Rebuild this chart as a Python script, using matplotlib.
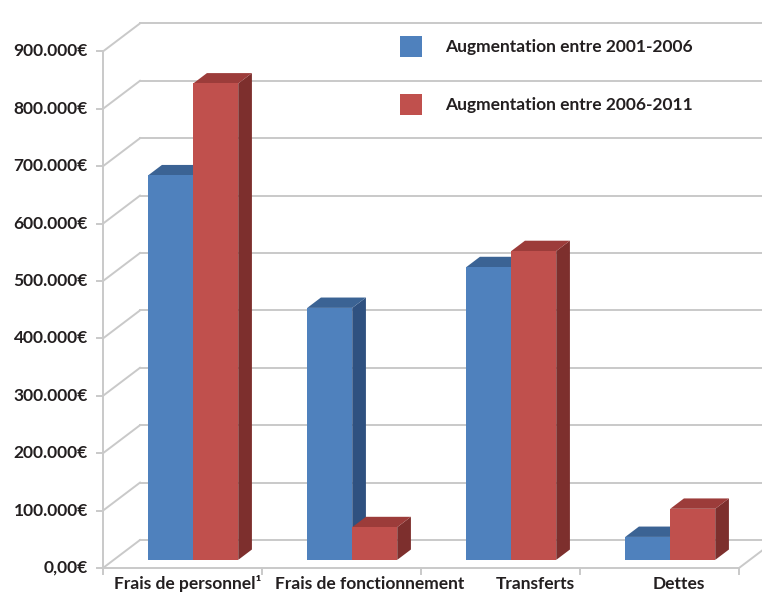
import matplotlib
matplotlib.use('Agg')
import matplotlib.pyplot as plt
from matplotlib.patches import Polygon

# data
categories = ['Frais de personnel\u00b9', 'Frais de fonctionnement', 'Transferts', 'Dettes']
aug_2001_2006 = [670000, 439000, 510000, 40000]
aug_2006_2011 = [830000, 57000, 538000, 89000]
series_names = ['Augmentation entre 2001-2006', 'Augmentation entre 2006-2011']
yticks = [0, 100000, 200000, 300000, 400000, 500000, 600000, 700000, 800000, 900000]
ytick_labels = ['0,00\u20ac', '100.000\u20ac', '200.000\u20ac', '300.000\u20ac', '400.000\u20ac',
                '500.000\u20ac', '600.000\u20ac', '700.000\u20ac', '800.000\u20ac', '900.000\u20ac']

# look
FONT = ['Lato', 'DejaVu Sans']
TXT = '#231f20'
GRID = '#c9c9c9'
blue = ('#4f81bd', '#3b6394', '#2f5180')   # front, top, side
red = ('#c0504d', '#9c3c3a', '#7d2f2d')

PX_X = 159.0            # pixels per category
PX_Y = 57.4 / 100000    # pixels per euro
DX = 37 / PX_X          # depth of the box, in category units
DY = 28 / PX_Y          # depth of the box, in euros
F0 = 0.29               # bar front depth fraction
FD = 0.37               # bar depth fraction
W = 45 / PX_X           # bar width

fig = plt.figure(figsize=(7.62, 5.93), dpi=100)
ax = fig.add_axes([0, 0, 1, 1])
ax.set_xlim(-103 / PX_X, (762 - 103) / PX_X)
ax.set_ylim(-25 / PX_Y, 568 / PX_Y)
ax.axis('off')

n = len(categories)
xr = n  # right end of floor

# walls and gridlines
for v in yticks:
    ax.plot([0, DX], [v, v + DY], color=GRID, lw=1.4, zorder=1)
    ax.plot([DX, xr + DX], [v + DY, v + DY], color=GRID, lw=1.4, zorder=1)
    ax.plot([-6 / PX_X, 0], [v, v], color=GRID, lw=1.4, zorder=1)
ax.plot([0, 0], [0, yticks[-1]], color=GRID, lw=1.4, zorder=1)
ax.plot([0, xr], [0, 0], color=GRID, lw=1.4, zorder=1)
ax.plot([xr, xr + DX], [0, DY], color=GRID, lw=1.4, zorder=1)
for i in range(n + 1):
    ax.plot([i, i], [0, -6 / PX_Y], color=GRID, lw=1.4, zorder=1)


def box(x0, h, cols):
    ox, oy = F0 * DX, F0 * DY
    dx, dy = FD * DX, FD * DY
    x0 = x0 + ox
    front = [(x0, oy), (x0 + W, oy), (x0 + W, oy + h), (x0, oy + h)]
    side = [(x0 + W, oy), (x0 + W + dx, oy + dy), (x0 + W + dx, oy + h + dy), (x0 + W, oy + h)]
    top = [(x0, oy + h), (x0 + W, oy + h), (x0 + W + dx, oy + h + dy), (x0 + dx, oy + h + dy)]
    ax.add_patch(Polygon(side, closed=True, fc=cols[2], ec='none', zorder=3))
    ax.add_patch(Polygon(top, closed=True, fc=cols[1], ec='none', zorder=3))
    ax.add_patch(Polygon(front, closed=True, fc=cols[0], ec='none', zorder=3))


for i in range(n):
    c = i + 0.5
    box(c - W, aug_2001_2006[i], blue)
    box(c, aug_2006_2011[i], red)

# y tick labels
for v, lab in zip(yticks, ytick_labels):
    ax.text(-15 / PX_X, v, lab, ha='right', va='center', fontsize=12.5,
            fontweight='bold', color=TXT, family=FONT)

# category labels
label_dx = [0.53, 1.68, 2.72, 3.62]
for lab, lx in zip(categories, label_dx):
    ax.text(lx, -16 / PX_Y, lab, ha='center', va='center', fontsize=12.5,
            fontweight='bold', color=TXT, family=FONT)

# legend
for k, (name, cols) in enumerate(zip(series_names, (blue, red))):
    ly = (568 - 47 - 58 * k) / PX_Y
    lx = (400 - 103) / PX_X
    ax.add_patch(Polygon([(lx, ly - 10 / PX_Y), (lx + 22 / PX_X, ly - 10 / PX_Y),
                          (lx + 22 / PX_X, ly + 11 / PX_Y), (lx, ly + 11 / PX_Y)],
                         closed=True, fc=cols[0], ec='none', zorder=4))
    ax.text((445 - 103) / PX_X, ly, name, ha='left', va='center', fontsize=12.5,
            fontweight='bold', color=TXT, family=FONT, zorder=4)

fig.savefig('out.png', dpi=100)
